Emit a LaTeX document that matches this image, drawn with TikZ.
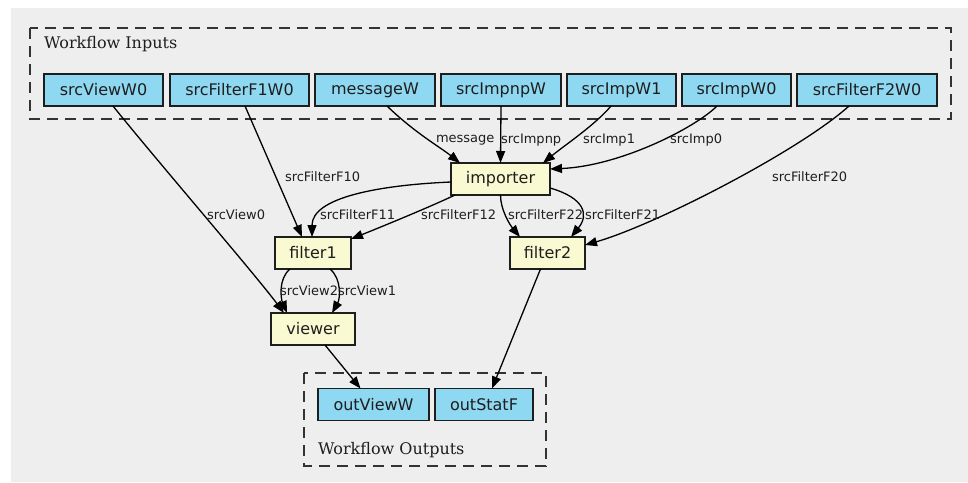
\documentclass[tikz,border=0pt]{standalone}
\usepackage{fontspec}
\setmainfont{DejaVu Sans}
\newfontfamily\titlefont{DejaVu Serif}
\usetikzlibrary{arrows.meta}

\definecolor{inblue}{HTML}{8FD8F2}
\definecolor{procyellow}{HTML}{FAFAD2}
\definecolor{canvas}{HTML}{EEEEEE}
\definecolor{ink}{HTML}{1E1E1E}
\definecolor{framegrey}{HTML}{333333}

\begin{document}
\begin{tikzpicture}[x=1pt, y=-1pt,
  every node/.style={inner sep=0pt, outer sep=0pt, text=ink},
  iobox/.style={draw=ink, line width=1.5pt, fill=inblue, minimum height=32pt,
                font=\fontsize{16}{19}\selectfont},
  procbox/.style={draw=ink, line width=1.5pt, fill=procyellow, minimum height=32pt,
                font=\fontsize{16}{19}\selectfont},
  cluster/.style={draw=framegrey, line width=1.5pt, dash pattern=on 11pt off 7pt},
  clustertitle/.style={anchor=base west, font=\titlefont\fontsize{16}{19}\selectfont},
  lbl/.style={anchor=west, font=\fontsize{13}{15}\selectfont},
  wire/.style={draw=black, line width=1.3pt, -{Triangle[length=12pt,width=9pt]}}
]
% page and canvas
\useasboundingbox (0,0) rectangle (968,482);
\fill[white] (0,0) rectangle (968,482);
\fill[canvas] (11,8) rectangle (968,482);

% clusters
\draw[cluster] (30,28) rectangle (951,119);
\node[clustertitle] (intitle) at (44,48) {Workflow Inputs};
\draw[cluster] (304,373) rectangle (546,466);
\node[clustertitle] (outtitle) at (318,454) {Workflow Outputs};

% workflow inputs
\node[iobox, minimum width=119pt] (srcViewW0)     at (103.5,90) {srcViewW0};
\node[iobox, minimum width=139pt] (srcFilterF1W0) at (239.5,90) {srcFilterF1W0};
\node[iobox, minimum width=120pt] (messageW)      at (375,90)   {messageW};
\node[iobox, minimum width=120pt] (srcImpnpW)     at (501,90)   {srcImpnpW};
\node[iobox, minimum width=109pt] (srcImpW1)      at (621.5,90) {srcImpW1};
\node[iobox, minimum width=109pt] (srcImpW0)      at (736.5,90) {srcImpW0};
\node[iobox, minimum width=140pt] (srcFilterF2W0) at (867,90)   {srcFilterF2W0};

% processing steps
\node[procbox, minimum width=99pt] (importer) at (500.5,179) {importer};
\node[procbox, minimum width=76pt] (filter1)  at (313,253)   {filter1};
\node[procbox, minimum width=75pt] (filter2)  at (547.5,253) {filter2};
\node[procbox, minimum width=84pt] (viewer)   at (313,329)   {viewer};

% workflow outputs
\node[iobox, minimum width=111pt] (outViewW) at (373.5,404.5) {outViewW};
\node[iobox, minimum width=98pt]  (outStatF) at (484,404.5)   {outStatF};

% connectors
\draw[wire] ([xshift=9.5pt]srcViewW0.south) .. controls +(40,50) and +(-30,-40) .. ([xshift=-29pt]viewer.north);
\draw[wire] ([xshift=5.5pt]srcFilterF1W0.south) -- ([xshift=-11pt]filter1.north);
\draw[wire] ([xshift=12pt]messageW.south) .. controls +(28,27) and +(-20,-16) .. ([xshift=9pt]importer.north west);
\draw[wire] (srcImpnpW.south) -- (importer.north);
\draw[wire] ([xshift=-10.5pt]srcImpW1.south) .. controls +(-16,19) and +(22,-18) .. ([xshift=-7pt]importer.north east);
\draw[wire] ([xshift=-19.5pt]srcImpW0.south) .. controls +(-22,22) and +(70,-3) .. ([yshift=10pt]importer.east);
\draw[wire] ([xshift=-18pt]srcFilterF2W0.south) .. controls +(-50,45) and +(70,-20) .. ([yshift=8pt]filter2.east);
\draw[wire] ([yshift=-3pt]importer.west) .. controls +(-70,3) and +(0,-40) .. ([xshift=-1pt]filter1.north);
\draw[wire] ([xshift=4pt]importer.south west) .. controls +(-25,12) and +(25,-10) .. ([yshift=-2pt]filter1.north east);
\draw[wire] (importer.south) .. controls +(0,15) and +(-10,-12) .. ([xshift=10pt]filter2.north west);
\draw[wire] ([yshift=-9pt]importer.east) .. controls +(35,10) and +(18,-22) .. ([xshift=-14pt]filter2.north east);
\draw[wire] ([xshift=-23pt]filter1.south) .. controls +(-12,10) and +(-6,-14) .. ([xshift=-26pt]viewer.north);
\draw[wire] ([xshift=17pt]filter1.south) .. controls +(12,10) and +(8,-14) .. ([xshift=19pt]viewer.north);
\draw[wire] ([xshift=12pt]viewer.south) -- ([xshift=-13pt]outViewW.north);
\draw[wire] ([xshift=-7pt]filter2.south) -- ([xshift=8pt]outStatF.north);

% connector labels
\node[lbl] (l0)  at (207,215) {srcView0};
\node[lbl] (l1)  at (285,177) {srcFilterF10};
\node[lbl] (l2)  at (436,140) {message};
\node[lbl] (l3)  at (501,140) {srcImpnp};
\node[lbl] (l4)  at (583,140) {srcImp1};
\node[lbl] (l5)  at (670,140) {srcImp0};
\node[lbl] (l6)  at (772,177) {srcFilterF20};
\node[lbl] (l7)  at (320,215) {srcFilterF11};
\node[lbl] (l8)  at (421,215) {srcFilterF12};
\node[lbl] (l9)  at (508,215) {srcFilterF22};
\node[lbl] (l10) at (585,215) {srcFilterF21};
\node[lbl] (l11) at (280,291) {srcView2};
\node[lbl] (l12) at (338,291) {srcView1};
\end{tikzpicture}
\end{document}
